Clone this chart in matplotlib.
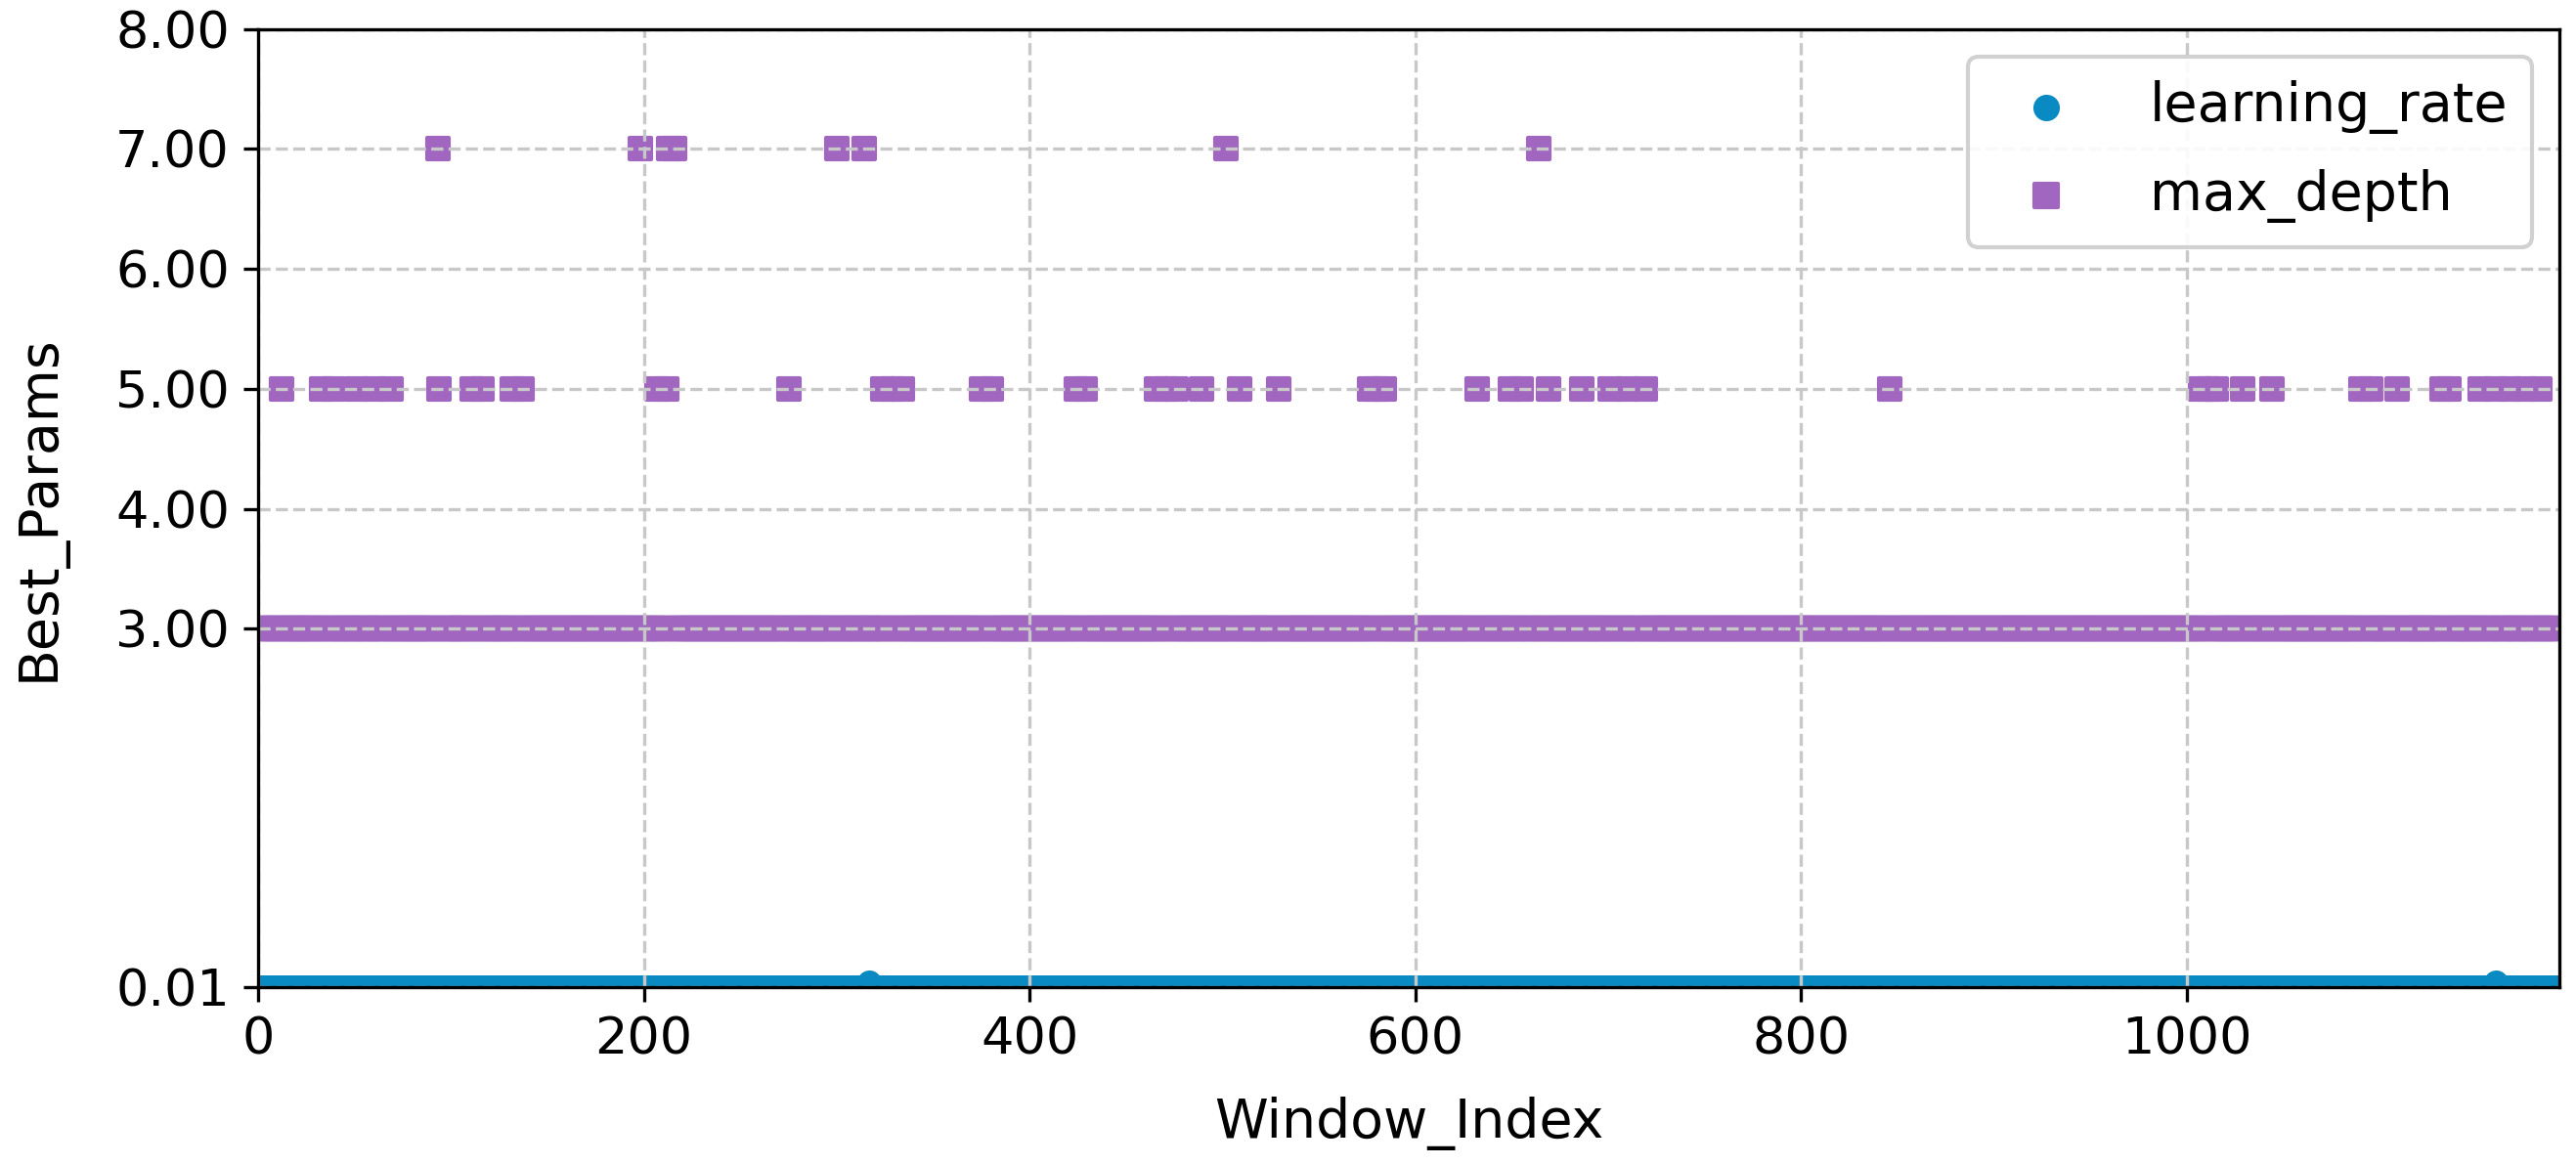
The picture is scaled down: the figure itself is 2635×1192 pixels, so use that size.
import numpy as np
import matplotlib
matplotlib.use("Agg")
import matplotlib.pyplot as plt

# windows in the run, most of them keep the default depth 3 / lr 0.01
n_windows = 1193
base_depth = 3
base_lr = 0.01

# windows where the search picked something else
depth5_windows = [12, 33, 39, 51, 60, 69, 94, 111, 116, 132, 137, 207, 212, 216,
                  275, 324, 329, 334, 375, 380, 424, 429, 466, 471, 476, 489,
                  502, 509, 529, 576, 580, 584, 632, 649, 655, 669, 686, 701,
                  710, 719, 846, 1007, 1011, 1015, 1029, 1044, 1090, 1095, 1109,
                  1132, 1136, 1152, 1160, 1167, 1175, 1183]
depth7_windows = [93, 198, 213, 216, 300, 314, 502, 664]
lr_005_windows = [317, 1160]

y_ticks = [0.01, 3, 4, 5, 6, 7, 8]

window_index = np.arange(n_windows)
max_depth = np.full(n_windows, base_depth, dtype=float)
max_depth[depth5_windows] = 5
max_depth[depth7_windows] = 7
learning_rate = np.full(n_windows, base_lr)
learning_rate[lr_005_windows] = 0.05

plt.rcParams['font.family'] = ['DejaVu Sans']
plt.rcParams['font.size'] = 13.3

fig = plt.figure(figsize=(2635 / 300, 1192 / 300), dpi=300)
ax = fig.add_axes([0.1002, 0.1527, 0.8933, 0.8223])

ax.scatter(window_index, learning_rate, s=25, marker='o', color='#0a8ac2',
           label='learning_rate', zorder=2)
ax.scatter(window_index, max_depth, s=28, marker='s', color='#a066c0',
           label='max_depth', zorder=2)

ax.set_xlim(0, n_windows)
ax.set_ylim(0.01, 8)
ax.set_yticks(y_ticks)
ax.set_yticklabels([f'{t:.2f}' for t in y_ticks])
ax.set_xticks([0, 200, 400, 600, 800, 1000])
ax.tick_params(labelsize=12.6)

ax.set_axisbelow(False)
ax.grid(True, linestyle='--', color='#c8c8c8', linewidth=0.8, zorder=3)
for sp in ax.spines.values():
    sp.set_zorder(4)

ax.set_xlabel('Window_Index', labelpad=8)
ax.set_ylabel('Best_Params', labelpad=12)

ax.legend(loc='upper right', markerscale=1.1, handlelength=2.0,
          handletextpad=0.9, borderpad=0.45, labelspacing=0.64,
          borderaxespad=0.5, framealpha=0.9)

fig.savefig('out.png', dpi=300)
